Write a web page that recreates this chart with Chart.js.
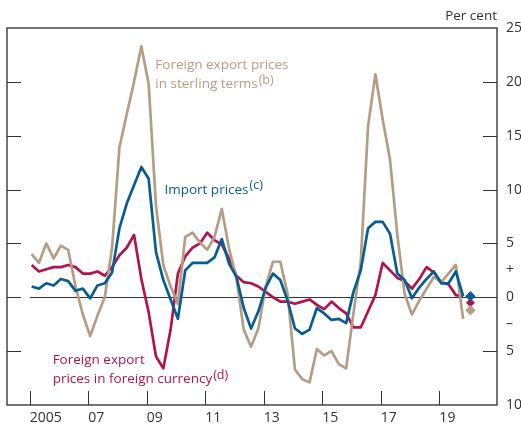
<!DOCTYPE html>
<html>
<head>
<meta charset="utf-8">
<script src="https://cdn.jsdelivr.net/npm/chart.js@4.4.1/dist/chart.umd.min.js"></script>
<style>
  html, body { margin: 0; padding: 0; background: #fff; }
  #wrap { width: 521px; height: 431px; }
</style>
</head>
<body>
<div id="wrap"><canvas id="myChart" width="521" height="431"></canvas></div>
<script>
// quarterly observations, 2005 Q1 to 2019 Q4, plotted mid-way into the first month
var quarters = [];
for (var yr = 2005; yr <= 2019; yr++) {
    for (var q = 0; q < 4; q++) quarters.push(yr + (q + 0.25) / 4);
}

var sterlingTerms = [
    4.0, 3.2, 5.0, 3.6, 4.8, 4.4, 1.0, -1.6,
    -3.6, -1.7, 0.0, 4.6, 13.9, 17.0, 20.0, 23.3,
    19.8, 8.5, 3.0, 1.0, -0.6, 5.6, 6.0, 5.1,
    4.4, 5.6, 8.2, 4.5, 1.8, -3.0, -4.6, -2.9,
    1.0, 3.3, 3.3, 0.3, -6.7, -7.6, -7.9, -4.8,
    -5.4, -5.0, -6.2, -6.6, -1.5, 3.3, 15.9, 20.7,
    16.5, 12.8, 5.8, 0.3, -1.6, -0.3, 0.8, 1.9,
    1.4, 2.2, 3.0, -2.0
];
var importPrices = [
    1.0, 0.8, 1.3, 1.1, 1.7, 1.5, 0.6, 0.8,
    -0.1, 1.1, 1.3, 2.3, 6.4, 8.7, 10.4, 12.1,
    11.0, 4.2, 1.6, -0.2, -2.0, 2.5, 3.2, 3.2,
    3.2, 3.7, 5.4, 3.1, 1.9, -1.0, -2.9, -1.3,
    0.9, 2.2, 1.6, -0.3, -2.9, -3.4, -3.0, -1.0,
    -1.5, -2.1, -2.0, -2.4, 0.5, 2.5, 6.4, 7.0,
    7.0, 5.9, 2.2, 1.6, -0.1, 0.9, 1.7, 2.4,
    1.3, 1.3, 2.4, 0.1
];
var foreignCurrency = [
    3.0, 2.4, 2.6, 2.8, 2.8, 3.0, 2.8, 2.2,
    2.2, 2.4, 2.0, 2.8, 3.9, 4.6, 5.8, 1.7,
    -1.4, -5.5, -6.6, -3.0, 2.2, 3.8, 4.6, 5.0,
    6.0, 5.3, 4.9, 3.6, 2.0, 1.4, 1.3, 1.0,
    0.5, 0.0, -0.4, -0.4, -0.6, -0.4, -0.2, -0.7,
    -1.1, -0.4, -1.0, -1.5, -2.8, -2.8, -1.3, 0.2,
    3.2, 2.5, 1.8, 1.5, 0.8, 1.7, 2.8, 2.3,
    1.4, 1.2, 0.2, 0.1
];

// 2020 Q1 projections
var projQuarter = [2020.0625];
var projSterling = [-1.2];
var projImport = [0.1];
var projForeign = [-0.5];

var yearTicks = [2005, 2007, 2009, 2011, 2013, 2015, 2017, 2019];
var yearLabels = ['2005', '07', '09', '11', '13', '15', '17', '19'];
var frameTicks = [20, 15, 10, 5, 0, -5];

var TAN = '#b39e85';
var BLUE = '#075d92';
var RED = '#b3134c';
var INK = '#333333';
var FONT = '"Open Sans", "Noto Sans", sans-serif';

function points(xs, ys) {
    return ys.map(function (v, i) { return { x: xs[i], y: v }; });
}

function yLabel(v) {
    if (v === 2.5) return '+';
    if (v === -2.5) return '\u2013';
    if (v % 5 !== 0) return '';
    return String(Math.abs(v));
}

// text labels next to the lines, anchored in data units
var notes = [
    { x: 2009.29, y: 21.19, color: TAN, lines: ['Foreign export prices', 'in sterling terms'], sup: '(b)' },
    { x: 2009.6, y: 9.59, color: BLUE, lines: ['Import prices'], sup: '(c)' },
    { x: 2005.78, y: -6.22, color: RED, lines: ['Foreign export', 'prices in foreign currency'], sup: '(d)' }
];

var framePlugin = {
    id: 'frame',
    beforeDatasetsDraw: function (chart) {
        var ctx = chart.ctx;
        var a = chart.chartArea;
        var xs = chart.scales.x;
        var ys = chart.scales.y;
        ctx.save();
        ctx.strokeStyle = INK;
        ctx.lineWidth = 1;
        ctx.beginPath();
        frameTicks.forEach(function (v) {
            var py = Math.round(ys.getPixelForValue(v)) + 0.5;
            ctx.moveTo(a.left, py);
            ctx.lineTo(a.left + 14, py);
            ctx.moveTo(a.right - 14, py);
            ctx.lineTo(a.right, py);
        });
        yearTicks.forEach(function (v) {
            var px = Math.round(xs.getPixelForValue(v)) + 0.5;
            ctx.moveTo(px, a.bottom);
            ctx.lineTo(px, a.bottom - 14);
        });
        // zero line starts at the first year tick
        var zy = Math.round(ys.getPixelForValue(0)) + 0.5;
        ctx.moveTo(xs.getPixelForValue(yearTicks[0]), zy);
        ctx.lineTo(a.right, zy);
        ctx.stroke();

        ctx.lineWidth = 1.4;
        ctx.strokeStyle = '#3a3a3a';
        ctx.strokeRect(a.left, a.top, a.right - a.left, a.bottom - a.top);
        ctx.restore();
    },
    afterDraw: function (chart) {
        var ctx = chart.ctx;
        var a = chart.chartArea;
        var xs = chart.scales.x;
        var ys = chart.scales.y;
        ctx.save();
        ctx.textBaseline = 'alphabetic';
        ctx.textAlign = 'right';
        ctx.fillStyle = INK;
        ctx.font = '13.5px ' + FONT;
        ctx.fillText('Per cent', a.right, 20);

        ctx.textAlign = 'left';
        notes.forEach(function (n) {
            var px = xs.getPixelForValue(n.x);
            var py = ys.getPixelForValue(n.y);
            ctx.fillStyle = n.color;
            n.lines.forEach(function (t, i) {
                ctx.font = '13.5px ' + FONT;
                var by = py + i * 19.2;
                ctx.fillText(t, px, by);
                if (i === n.lines.length - 1) {
                    var w = ctx.measureText(t).width;
                    ctx.font = '12.5px ' + FONT;
                    ctx.fillText(n.sup, px + w + 1, by - 4.5);
                }
            });
        });
        ctx.restore();
    }
};

new Chart('myChart', {
    type: 'line',
    data: {
        datasets: [
            {
                data: points(quarters, foreignCurrency),
                borderColor: RED, borderWidth: 2.7, pointRadius: 0, order: 3
            },
            {
                data: points(quarters, sterlingTerms),
                borderColor: TAN, borderWidth: 2.7, pointRadius: 0, order: 2
            },
            {
                data: points(quarters, importPrices),
                borderColor: BLUE, borderWidth: 2.7, pointRadius: 0, order: 1
            },
            {
                data: points(projQuarter, projForeign), showLine: false,
                pointStyle: 'rectRot', pointRadius: 4.5, borderWidth: 0,
                backgroundColor: RED, pointBackgroundColor: RED, order: 3
            },
            {
                data: points(projQuarter, projSterling), showLine: false,
                pointStyle: 'rectRot', pointRadius: 5.2, borderWidth: 0,
                backgroundColor: TAN, pointBackgroundColor: TAN, order: 2
            },
            {
                data: points(projQuarter, projImport), showLine: false,
                pointStyle: 'rectRot', pointRadius: 5.2, borderWidth: 0,
                backgroundColor: BLUE, pointBackgroundColor: BLUE, order: 1
            }
        ]
    },
    options: {
        responsive: false,
        animation: false,
        layout: { padding: { left: 7, top: 28, right: 0, bottom: 0 } },
        elements: { line: { tension: 0, fill: false, borderJoinStyle: 'round' } },
        plugins: {
            legend: { display: false },
            tooltip: { enabled: false },
            title: { display: false }
        },
        scales: {
            x: {
                type: 'linear',
                min: 2004.22,
                max: 2020.97,
                grid: { display: false, drawTicks: false },
                border: { display: false },
                afterFit: function (s) { s.height = 26; },
                afterBuildTicks: function (s) {
                    s.ticks = yearTicks.map(function (v) { return { value: v }; });
                },
                ticks: {
                    autoSkip: false,
                    maxRotation: 0,
                    align: 'start',
                    padding: 5,
                    color: INK,
                    font: { family: FONT, size: 14 },
                    callback: function (v) {
                        var i = yearTicks.indexOf(v);
                        return i < 0 ? '' : yearLabels[i];
                    }
                }
            },
            y: {
                position: 'right',
                min: -10,
                max: 25,
                grid: { display: false, drawTicks: false },
                border: { display: false },
                afterFit: function (s) { s.width = 24; },
                ticks: {
                    stepSize: 2.5,
                    autoSkip: false,
                    padding: 9,
                    color: INK,
                    font: { family: FONT, size: 14 },
                    callback: yLabel
                }
            }
        }
    },
    plugins: [framePlugin]
});
</script>
</body>
</html>
